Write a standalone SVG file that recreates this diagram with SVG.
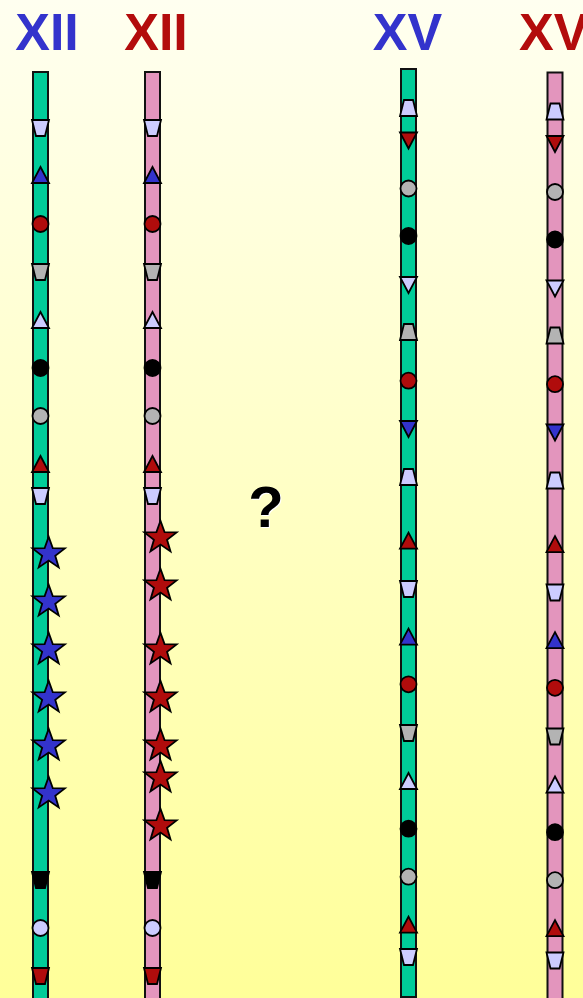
<svg xmlns="http://www.w3.org/2000/svg" xmlns:xlink="http://www.w3.org/1999/xlink" width="583" height="998" viewBox="0 0 583 998">
<defs>
<linearGradient id="bg" x1="0" y1="0" x2="0" y2="1">
<stop offset="0" stop-color="#FFFFF0"/>
<stop offset="1" stop-color="#FFFF99"/>
</linearGradient>
<style>
.bar{stroke:#111;stroke-width:2}
.g{fill:#00CC99}
.p{fill:#E395BD}
.m{stroke:#000;stroke-width:1.8;stroke-linejoin:miter}
.lav{fill:#CCCCFF}.gry{fill:#B3B3B3}.red{fill:#B00C0C}.blu{fill:#3333CC}.blk{fill:#000}
.t{font-family:"Liberation Sans",Arial,sans-serif;font-weight:bold;font-size:52px;text-anchor:middle}
.q{font-family:"Liberation Sans",Arial,sans-serif;font-weight:bold;font-size:58px;text-anchor:middle;fill:#000}
</style>
<polygon id="triUp" points="-8.5,0 8.5,0 0,-16"/>
<polygon id="triDn" points="-8.5,0 8.5,0 0,16"/>
<polygon id="trapDn" points="-8.5,0 8.5,0 4.5,16 -4.5,16"/>
<polygon id="trapUp" points="-4.5,0 4.5,0 8.5,16 -8.5,16"/>
<circle id="dot" r="8"/>
<path id="star" d="M0,-17 L4.06,-5.58 L16.17,-5.25 L6.56,2.13 L9.99,13.75 L0,6.9 L-9.99,13.75 L-6.56,2.13 L-16.17,-5.25 L-4.06,-5.58 Z"/>
</defs>
<rect width="583" height="998" fill="url(#bg)"/>

<g id="title-xii-blue"><text class="t" x="47" y="50" fill="#3333CC">XII</text></g>
<g id="title-xii-red"><text class="t" x="156" y="50" fill="#B30C0C">XII</text></g>
<g id="title-xv-blue"><text class="t" x="407.5" y="50" fill="#3333CC">XV</text></g>
<g id="title-xv-red"><text class="t" x="519" y="50" fill="#B30C0C" style="text-anchor:start">XV</text></g>

<g id="question">
<text class="q" x="267" y="528" fill="#fff" style="fill:#fff">?</text>
<text class="q" x="266" y="527">?</text>
</g>

<g id="chrom-xii-blue">
<rect class="bar g" x="33" y="72" width="15" height="940"/>
<use href="#trapDn" class="m lav" x="40.5" y="120"/>
<use href="#triUp" class="m blu" x="40.5" y="183"/>
<use href="#dot" class="m red" x="40.5" y="224"/>
<use href="#trapDn" class="m gry" x="40.5" y="264"/>
<use href="#triUp" class="m lav" x="40.5" y="328"/>
<use href="#dot" class="m blk" x="40.5" y="368"/>
<use href="#dot" class="m gry" x="40.5" y="416"/>
<use href="#triUp" class="m red" x="40.5" y="472"/>
<use href="#trapDn" class="m lav" x="40.5" y="488"/>
<use href="#star" class="m blu" x="48.7" y="553.7"/>
<use href="#star" class="m blu" x="48.7" y="601.7"/>
<use href="#star" class="m blu" x="48.7" y="649.7"/>
<use href="#star" class="m blu" x="48.7" y="697.7"/>
<use href="#star" class="m blu" x="48.7" y="745.7"/>
<use href="#star" class="m blu" x="48.7" y="793.7"/>
<use href="#trapDn" class="m blk" x="40.5" y="872"/>
<use href="#dot" class="m lav" x="40.5" y="928"/>
<use href="#trapDn" class="m red" x="40.5" y="968"/>
</g>

<g id="chrom-xii-red">
<rect class="bar p" x="145" y="72" width="15" height="940"/>
<use href="#trapDn" class="m lav" x="152.5" y="120"/>
<use href="#triUp" class="m blu" x="152.5" y="183"/>
<use href="#dot" class="m red" x="152.5" y="224"/>
<use href="#trapDn" class="m gry" x="152.5" y="264"/>
<use href="#triUp" class="m lav" x="152.5" y="328"/>
<use href="#dot" class="m blk" x="152.5" y="368"/>
<use href="#dot" class="m gry" x="152.5" y="416"/>
<use href="#triUp" class="m red" x="152.5" y="472"/>
<use href="#trapDn" class="m lav" x="152.5" y="488"/>
<use href="#star" class="m red" x="160.5" y="537.7"/>
<use href="#star" class="m red" x="160.5" y="585.7"/>
<use href="#star" class="m red" x="160.5" y="649.7"/>
<use href="#star" class="m red" x="160.5" y="697.7"/>
<use href="#star" class="m red" x="160.5" y="745.7"/>
<use href="#star" class="m red" x="160.5" y="777.7"/>
<use href="#star" class="m red" x="160.5" y="825.7"/>
<use href="#trapDn" class="m blk" x="152.5" y="872"/>
<use href="#dot" class="m lav" x="152.5" y="928"/>
<use href="#trapDn" class="m red" x="152.5" y="968"/>
</g>

<g id="chrom-xv-blue">
<rect class="bar g" x="401" y="69" width="15" height="928"/>
<use href="#trapUp" class="m lav" x="408.5" y="100"/>
<use href="#triDn" class="m red" x="408.5" y="132.5"/>
<use href="#dot" class="m gry" x="408.5" y="188.5"/>
<use href="#dot" class="m blk" x="408.5" y="236"/>
<use href="#triDn" class="m lav" x="408.5" y="277"/>
<use href="#trapUp" class="m gry" x="408.5" y="324"/>
<use href="#dot" class="m red" x="408.5" y="380.7"/>
<use href="#triDn" class="m blu" x="408.5" y="421"/>
<use href="#trapUp" class="m lav" x="408.5" y="469"/>
<use href="#triUp" class="m red" x="408.5" y="548.7"/>
<use href="#trapDn" class="m lav" x="408.5" y="581"/>
<use href="#triUp" class="m blu" x="408.5" y="644.7"/>
<use href="#dot" class="m red" x="408.5" y="684.3"/>
<use href="#trapDn" class="m gry" x="408.5" y="725"/>
<use href="#triUp" class="m lav" x="408.5" y="789"/>
<use href="#dot" class="m blk" x="408.5" y="828.7"/>
<use href="#dot" class="m gry" x="408.5" y="876.7"/>
<use href="#triUp" class="m red" x="408.5" y="932.7"/>
<use href="#trapDn" class="m lav" x="408.5" y="949"/>
</g>

<g id="chrom-xv-red">
<rect class="bar p" x="547.5" y="72.5" width="15" height="940"/>
<use href="#trapUp" class="m lav" x="555" y="103.5"/>
<use href="#triDn" class="m red" x="555" y="136"/>
<use href="#dot" class="m gry" x="555" y="192"/>
<use href="#dot" class="m blk" x="555" y="239.5"/>
<use href="#triDn" class="m lav" x="555" y="280.5"/>
<use href="#trapUp" class="m gry" x="555" y="327.5"/>
<use href="#dot" class="m red" x="555" y="384.2"/>
<use href="#triDn" class="m blu" x="555" y="424.5"/>
<use href="#trapUp" class="m lav" x="555" y="472.5"/>
<use href="#triUp" class="m red" x="555" y="552.2"/>
<use href="#trapDn" class="m lav" x="555" y="584.5"/>
<use href="#triUp" class="m blu" x="555" y="648.2"/>
<use href="#dot" class="m red" x="555" y="687.8"/>
<use href="#trapDn" class="m gry" x="555" y="728.5"/>
<use href="#triUp" class="m lav" x="555" y="792.5"/>
<use href="#dot" class="m blk" x="555" y="832.2"/>
<use href="#dot" class="m gry" x="555" y="880.2"/>
<use href="#triUp" class="m red" x="555" y="936.2"/>
<use href="#trapDn" class="m lav" x="555" y="952.5"/>
</g>
</svg>
